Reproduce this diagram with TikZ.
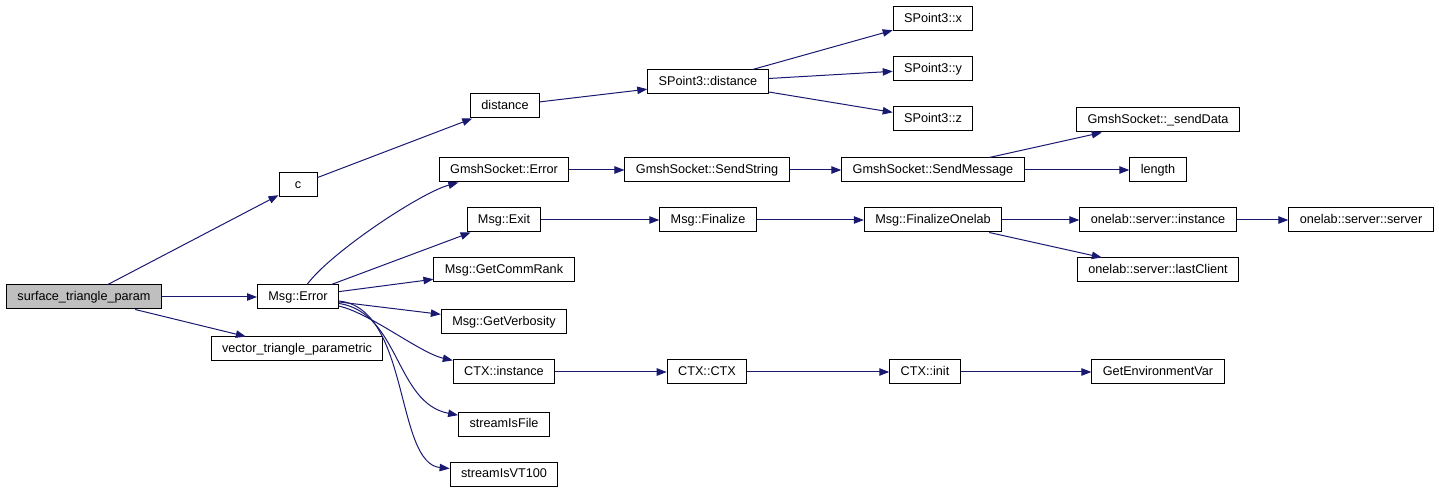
\documentclass[tikz,border=0pt]{standalone}
\usepackage{fontspec}
\setmainfont{Liberation Sans}
\usepackage{tikz}
\usetikzlibrary{arrows.meta}
\definecolor{navy}{HTML}{191970}

\begin{document}
\begin{tikzpicture}[x=0.75pt,y=0.75pt,font=\fontsize{9.5}{11}\selectfont,
  fn/.style={draw,line width=0.75pt,minimum height=18pt,minimum width=28.5pt,
    inner xsep=8.2pt,inner ysep=0pt,text height=7pt,text depth=2pt},
  call/.style={draw=navy,line width=0.75pt,-{Triangle[length=7.5pt,width=5.6pt]}}]
  \useasboundingbox (0,0) rectangle (1439,493);
  \node[fn,fill=black!25] (stp) at (84,196) {surface\_triangle\_param};
  \node[fn] (c) at (298,308) {c};
  \node[fn] (err) at (298,196) {Msg::Error};
  \node[fn] (vtp) at (297,144) {vector\_triangle\_parametric};
  \node[fn] (dist) at (505,387) {distance};
  \node[fn] (gerr) at (504,323) {GmshSocket::Error};
  \node[fn] (mexit) at (504,273) {Msg::Exit};
  \node[fn] (rank) at (504,223) {Msg::GetCommRank};
  \node[fn] (verb) at (504,171) {Msg::GetVerbosity};
  \node[fn] (ctxi) at (504,121) {CTX::instance};
  \node[fn] (sif) at (504,69) {streamIsFile};
  \node[fn] (svt) at (504,19) {streamIsVT100};
  \node[fn] (spd) at (708,411) {SPoint3::distance};
  \node[fn] (sstr) at (707,323) {GmshSocket::SendString};
  \node[fn] (fin) at (708,273) {Msg::Finalize};
  \node[fn] (ctor) at (707,121) {CTX::CTX};
  \node[fn] (sx) at (933,474) {SPoint3::x};
  \node[fn] (sy) at (933,424) {SPoint3::y};
  \node[fn] (sz) at (933,374) {SPoint3::z};
  \node[fn] (smsg) at (933,323) {GmshSocket::SendMessage};
  \node[fn] (fone) at (933,273) {Msg::FinalizeOnelab};
  \node[fn] (cinit) at (925,121) {CTX::init};
  \node[fn] (sdata) at (1158,373) {GmshSocket::\_sendData};
  \node[fn] (len) at (1158,323) {length};
  \node[fn] (oinst) at (1158,273) {onelab::server::instance};
  \node[fn] (olast) at (1158,223) {onelab::server::lastClient};
  \node[fn] (genv) at (1158,121) {GetEnvironmentVar};
  \node[fn] (osrv) at (1361,273) {onelab::server::server};
  \foreach \a/\b in {stp/c,stp/err,stp/vtp,c/dist,dist/spd,spd/sx,spd/sy,spd/sz,
    err/mexit,err/rank,err/verb,gerr/sstr,sstr/smsg,smsg/sdata,smsg/len,
    mexit/fin,fin/fone,fone/oinst,fone/olast,oinst/osrv,ctxi/ctor,ctor/cinit,cinit/genv}
    \draw[call] (\a) -- (\b);
  \draw[call] (err) .. controls (330,240) and (420,300) .. (gerr);
  \draw[call] (err) .. controls (370,180) and (420,140) .. (ctxi);
  \draw[call] (err) .. controls (400,180) and (395,90) .. (sif);
  \draw[call] (err) .. controls (410,185) and (395,30) .. (svt);
\end{tikzpicture}
\end{document}
